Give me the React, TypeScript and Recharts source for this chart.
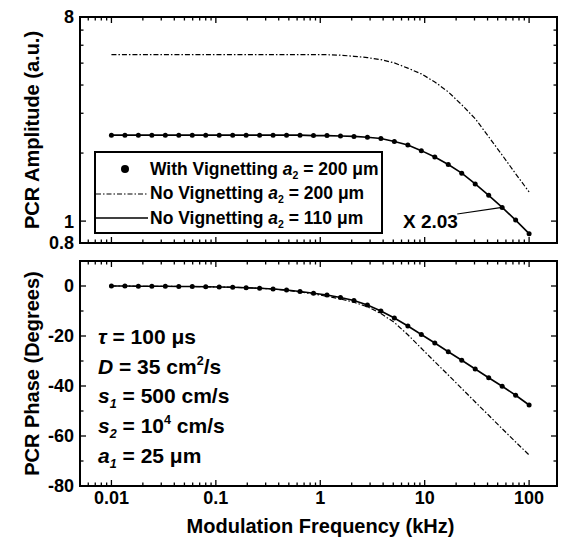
import React from 'react'
import {
  LineChart,
  Line,
  XAxis,
  YAxis,
  ReferenceArea,
  ReferenceLine,
  Legend,
} from 'recharts'

// modulation frequency in kHz (log spaced, 0.01 .. 100)
const freqKHz = [
  0.01, 0.01346, 0.01811, 0.02438, 0.03281, 0.04416, 0.05943, 0.07998,
  0.1077, 0.1449, 0.195, 0.2624, 0.3532, 0.4753, 0.6397, 0.861,
  1.16, 1.562, 2.102, 2.829, 3.808, 5.125, 6.899, 9.285,
  12.5, 16.82, 22.64, 30.47, 41.02, 55.21, 74.31, 100,
]

// PCR amplitude (a.u.)
const ampWithVig200 = [
  2.4, 2.4, 2.4, 2.4, 2.4, 2.4, 2.4, 2.4,
  2.4, 2.4, 2.4, 2.4, 2.4, 2.4, 2.4, 2.39,
  2.39, 2.38, 2.37, 2.35, 2.32, 2.25, 2.17, 2.05,
  1.92, 1.78, 1.63, 1.46, 1.3, 1.15, 1.01, 0.88,
]
const ampNoVig200 = [
  5.45, 5.45, 5.45, 5.45, 5.45, 5.45, 5.45, 5.45,
  5.45, 5.45, 5.45, 5.45, 5.45, 5.45, 5.45, 5.45,
  5.45, 5.42, 5.36, 5.29, 5.18, 5.01, 4.75, 4.48,
  4.13, 3.73, 3.27, 2.84, 2.36, 1.96, 1.62, 1.345,
]
const ampNoVig110 = [
  2.4, 2.4, 2.4, 2.4, 2.4, 2.4, 2.4, 2.4,
  2.4, 2.4, 2.4, 2.4, 2.4, 2.4, 2.4, 2.39,
  2.39, 2.38, 2.37, 2.35, 2.32, 2.25, 2.17, 2.05,
  1.92, 1.78, 1.63, 1.46, 1.3, 1.15, 1.01, 0.88,
]

// PCR phase (degrees)
const phaseWithVig200 = [
  0, 0, -0.1, -0.1, -0.1, -0.2, -0.2, -0.3,
  -0.4, -0.5, -0.7, -0.9, -1.2, -1.6, -2.2, -2.9,
  -3.6, -4.6, -5.8, -7.6, -10, -12.8, -16, -19.4,
  -22.8, -26.3, -29.7, -33.2, -36.7, -40.1, -43.7, -47.6,
]
const phaseNoVig200 = [
  0, 0, -0.1, -0.1, -0.1, -0.2, -0.2, -0.3,
  -0.4, -0.5, -0.7, -0.9, -1.2, -1.7, -2.4, -3.2,
  -4.1, -5.2, -6.5, -8.3, -11, -14.6, -19.5, -24.9,
  -30.3, -35.6, -41, -46.4, -51.7, -57.1, -62.4, -67.6,
]
const phaseNoVig110 = [
  0, 0, -0.1, -0.1, -0.1, -0.2, -0.2, -0.3,
  -0.4, -0.5, -0.7, -0.9, -1.2, -1.6, -2.2, -2.9,
  -3.6, -4.6, -5.8, -7.6, -10, -12.8, -16, -19.4,
  -22.8, -26.3, -29.7, -33.2, -36.7, -40.1, -43.7, -47.6,
]

// axes
const xDomain = [0.005, 185]
const xDecades = [0.001, 0.01, 0.1, 1, 10, 100]
const xMinorMult = [2, 3, 4, 5, 6, 7, 8, 9]
const xLabels = [0.01, 0.1, 1, 10, 100]
const ampDomain = [0.8, 8]
const ampTicks = [0.8, 1, 2, 3, 4, 5, 6, 7, 8]
const ampLabels = [0.8, 1, 8]
const phaseDomain = [-80, 10]
const phaseTicks = [-80, -70, -60, -50, -40, -30, -20, -10, 0]
const phaseLabels = [-80, -60, -40, -20, 0]

const legendRows = [
  { kind: 'dot', text: 'With Vignetting', a2: '200 μm' },
  { kind: 'dashdot', text: 'No Vignetting', a2: '200 μm' },
  { kind: 'solid', text: 'No Vignetting', a2: '110 μm' },
]

const params = [
  { sym: 'τ', sub: '', rest: ' = 100 μs', sup: '', tail: '' },
  { sym: 'D', sub: '', rest: ' = 35 cm', sup: '2', tail: '/s' },
  { sym: 's', sub: '1', rest: ' = 500 cm/s', sup: '', tail: '' },
  { sym: 's', sub: '2', rest: ' = 10', sup: '4', tail: ' cm/s' },
  { sym: 'a', sub: '1', rest: ' = 25 μm', sup: '', tail: '' },
]

const scaleNote = 'X 2.03'
const scaleLeader = [
  { x: 20.5, y: 1.075 },
  { x: 55.2, y: 1.15 },
]

const FONT = '"Liberation Sans", Arial, Helvetica, sans-serif'
const DASHDOT = '5 2 1.5 2'
const PLOT_W = 477
const AMP_H = 226
const PHASE_H = 225

const xTicks = xDecades
  .flatMap((d) => [d, ...xMinorMult.map((m) => +(d * m).toPrecision(3))])
  .filter((v) => v >= xDomain[0] && v <= xDomain[1])

const ampRows = freqKHz.map((f, i) => ({
  f,
  withVig: ampWithVig200[i],
  noVig200: ampNoVig200[i],
  noVig110: ampNoVig110[i],
}))
const phaseRows = freqKHz.map((f, i) => ({
  f,
  withVig: phaseWithVig200[i],
  noVig200: phaseNoVig200[i],
  noVig110: phaseNoVig110[i],
}))

const makeXTick = (plotH: number, showLabels: boolean) => (props: any) => {
  const { x, y, payload } = props
  const major = xLabels.includes(payload.value)
  const len = major ? 6 : 3.5
  return (
    <g>
      <line x1={x} x2={x} y1={y} y2={y - len} stroke="#000" strokeWidth={1.3} />
      <line x1={x} x2={x} y1={y - plotH} y2={y - plotH + len} stroke="#000" strokeWidth={1.3} />
      {showLabels && major && (
        <text x={x} y={y + 18} textAnchor="middle" fontFamily={FONT} fontWeight="bold" fontSize={18} fill="#000">
          {String(payload.value)}
        </text>
      )}
    </g>
  )
}

const makeYTick = (labels: number[]) => (props: any) => {
  const { x, y, payload } = props
  const major = labels.includes(payload.value)
  const len = major ? 6 : 3.5
  return (
    <g>
      <line x1={x} x2={x + len} y1={y} y2={y} stroke="#000" strokeWidth={1.3} />
      <line x1={x + PLOT_W} x2={x + PLOT_W - len} y1={y} y2={y} stroke="#000" strokeWidth={1.3} />
      {major && (
        <text x={x - 6} y={y} dy="0.36em" textAnchor="end" fontFamily={FONT} fontWeight="bold" fontSize={18} fill="#000">
          {String(payload.value)}
        </text>
      )}
    </g>
  )
}

const yTitle = (text: string) => (props: any) => {
  const vb = props.viewBox || {}
  const cx = (vb.x ?? 0) + 32
  const cy = (vb.y ?? 0) + (vb.height ?? 0) / 2
  return (
    <text
      x={cx}
      y={cy}
      transform={`rotate(-90 ${cx} ${cy})`}
      textAnchor="middle"
      dy="0.36em"
      fontFamily={FONT}
      fontWeight="bold"
      fontSize={20}
      fill="#000"
    >
      {text}
    </text>
  )
}

const xTitle = (text: string) => (props: any) => {
  const vb = props.viewBox || {}
  const cx = (vb.x ?? 0) + (vb.width ?? 0) / 2 + 2
  const cy = (vb.y ?? 0) + 47
  return (
    <text x={cx} y={cy} textAnchor="middle" fontFamily={FONT} fontWeight="bold" fontSize={20} fill="#000">
      {text}
    </text>
  )
}

const renderLegend = () => (
  <div
    style={{
      border: '2px solid #000',
      boxSizing: 'border-box',
      width: 289,
      height: 83,
      paddingTop: 4,
      background: '#fff',
      fontFamily: FONT,
      fontWeight: 'bold',
      fontSize: 17.5,
      color: '#000',
    }}
  >
    {legendRows.map((r) => (
      <div key={r.kind} style={{ display: 'flex', alignItems: 'center', height: 24.5 }}>
        <svg width={54} height={24} style={{ flex: 'none' }}>
          {r.kind === 'dot' && <circle cx={29} cy={12} r={4} fill="#000" />}
          {r.kind === 'dashdot' && (
            <line x1={0} x2={52} y1={12} y2={12} stroke="#000" strokeWidth={1.2} strokeDasharray={DASHDOT} />
          )}
          {r.kind === 'solid' && <line x1={0} x2={52} y1={12} y2={12} stroke="#000" strokeWidth={1.6} />}
        </svg>
        <span style={{ whiteSpace: 'nowrap' }}>
          {r.text} <i>a</i>
          <span style={{ fontSize: '0.6em', position: 'relative', top: '0.4em' }}>2</span> = {r.a2}
        </span>
      </div>
    ))}
  </div>
)

export default function App() {
  return (
    <div style={{ position: 'absolute', left: 0, top: 0, width: 562, height: 543, background: '#fff' }}>
      <div style={{ position: 'absolute', left: 0, top: 0 }}>
        <LineChart width={562} height={256} data={ampRows} margin={{ top: 17, right: 5, bottom: 0, left: 0 }}>
          <XAxis
            dataKey="f"
            type="number"
            scale="log"
            domain={xDomain}
            allowDataOverflow
            ticks={xTicks}
            interval={0}
            tickSize={0}
            tickMargin={0}
            axisLine={false}
            tickLine={false}
            tick={makeXTick(AMP_H, false)}
            height={13}
          />
          <YAxis
            type="number"
            scale="log"
            domain={ampDomain}
            allowDataOverflow
            ticks={ampTicks}
            interval={0}
            tickSize={0}
            tickMargin={0}
            axisLine={false}
            tickLine={false}
            tick={makeYTick(ampLabels)}
            width={80}
            label={yTitle('PCR Amplitude (a.u.)')}
          />
          <ReferenceArea
            x1={xDomain[0]}
            x2={xDomain[1]}
            y1={ampDomain[0]}
            y2={ampDomain[1]}
            fill="none"
            stroke="#000"
            strokeWidth={2}
            ifOverflow="visible"
          />
          <Line
            dataKey="noVig200"
            name="No Vignetting a2 = 200 μm"
            stroke="#000"
            strokeWidth={1.2}
            strokeDasharray={DASHDOT}
            dot={false}
            isAnimationActive={false}
          />
          <Line
            dataKey="noVig110"
            name="No Vignetting a2 = 110 μm"
            stroke="#000"
            strokeWidth={1.6}
            dot={false}
            isAnimationActive={false}
          />
          <Line
            dataKey="withVig"
            name="With Vignetting a2 = 200 μm"
            stroke="none"
            dot={{ r: 2.5, fill: '#000', stroke: 'none' }}
            isAnimationActive={false}
          />
          <ReferenceLine segment={scaleLeader} stroke="#000" strokeWidth={1.2} ifOverflow="visible" />
          <Legend
            layout="vertical"
            align="center"
            verticalAlign="middle"
            content={renderLegend}
            wrapperStyle={{ left: 94, top: 151, width: 289, height: 83, right: 'auto', bottom: 'auto' }}
          />
        </LineChart>
        <div
          style={{
            position: 'absolute',
            left: 403,
            top: 212,
            fontFamily: FONT,
            fontWeight: 'bold',
            fontSize: 19,
            lineHeight: '19px',
            whiteSpace: 'nowrap',
          }}
        >
          {scaleNote}
        </div>
      </div>

      <div style={{ position: 'absolute', left: 0, top: 250 }}>
        <LineChart width={562} height={293} data={phaseRows} margin={{ top: 11, right: 5, bottom: 0, left: 0 }}>
          <XAxis
            dataKey="f"
            type="number"
            scale="log"
            domain={xDomain}
            allowDataOverflow
            ticks={xTicks}
            interval={0}
            tickSize={0}
            tickMargin={0}
            axisLine={false}
            tickLine={false}
            tick={makeXTick(PHASE_H, true)}
            height={57}
            label={xTitle('Modulation Frequency (kHz)')}
          />
          <YAxis
            type="number"
            domain={phaseDomain}
            allowDataOverflow
            ticks={phaseTicks}
            interval={0}
            tickSize={0}
            tickMargin={0}
            axisLine={false}
            tickLine={false}
            tick={makeYTick(phaseLabels)}
            width={80}
            label={yTitle('PCR Phase (Degrees)')}
          />
          <ReferenceArea
            x1={xDomain[0]}
            x2={xDomain[1]}
            y1={phaseDomain[0]}
            y2={phaseDomain[1]}
            fill="none"
            stroke="#000"
            strokeWidth={2}
            ifOverflow="visible"
          />
          <Line
            dataKey="noVig200"
            stroke="#000"
            strokeWidth={1.2}
            strokeDasharray={DASHDOT}
            dot={false}
            isAnimationActive={false}
          />
          <Line dataKey="noVig110" stroke="#000" strokeWidth={1.6} dot={false} isAnimationActive={false} />
          <Line
            dataKey="withVig"
            stroke="none"
            dot={{ r: 2.5, fill: '#000', stroke: 'none' }}
            isAnimationActive={false}
          />
        </LineChart>
        <div
          style={{
            position: 'absolute',
            left: 98,
            top: 72,
            fontFamily: FONT,
            fontWeight: 'bold',
            fontSize: 21,
            whiteSpace: 'nowrap',
          }}
        >
          {params.map((p, i) => (
            <div key={i} style={{ height: 29.7, lineHeight: '29.7px' }}>
              <i>{p.sym}</i>
              {p.sub && (
                <i style={{ fontSize: '0.6em', lineHeight: 0, position: 'relative', top: '0.4em' }}>{p.sub}</i>
              )}
              {p.rest}
              {p.sup && (
                <span style={{ fontSize: '0.6em', lineHeight: 0, position: 'relative', top: '-0.7em' }}>{p.sup}</span>
              )}
              {p.tail}
            </div>
          ))}
        </div>
      </div>
    </div>
  )
}
